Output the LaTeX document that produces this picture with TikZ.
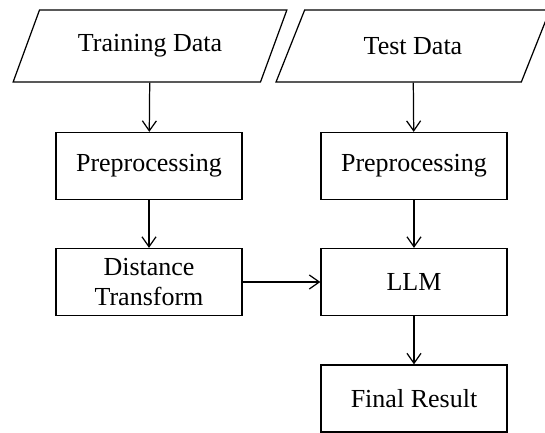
\documentclass[tikz,border=0pt]{standalone}
\usepackage{fontspec}
\setmainfont{Liberation Serif}
\usetikzlibrary{arrows.meta,shapes.geometric}
\begin{document}
\begin{tikzpicture}
          [line width=0.7pt,>={Straight Barb[length=0.2cm,width=0.28cm]},
           every node/.style={draw, align=center, inner sep=0pt, font=\fontsize{14.8}{17}\selectfont},
           box/.style={rectangle, minimum width=3.72cm, minimum height=1.34cm},
           data/.style={trapezium, trapezium left angle=53, trapezium right angle=127,
                        trapezium stretches=true, minimum width=5.48cm, minimum height=1.44cm}]
        \useasboundingbox (0,0) rectangle (10.9,-8.66);
        \node[data] (train) at (3.0,-0.92) {Training Data};
        \node[data] (test) at (8.26,-0.92) {Test Data};
        \node[box] (pre1) at (2.98,-3.32) {Preprocessing};
        \node[box] (pre2) at (8.28,-3.32) {Preprocessing};
        \node[box] (dist) at (2.98,-5.64) {Distance\\Transform};
        \node[box] (llm) at (8.28,-5.64) {LLM};
        \node[box] (final) at (8.28,-7.97) {Final Result};

        \foreach \from/\to in {train/pre1, pre1/dist, test/pre2, pre2/llm, dist/llm, llm/final}
          \draw[->] (\from) -- (\to);
      \end{tikzpicture}
\end{document}
